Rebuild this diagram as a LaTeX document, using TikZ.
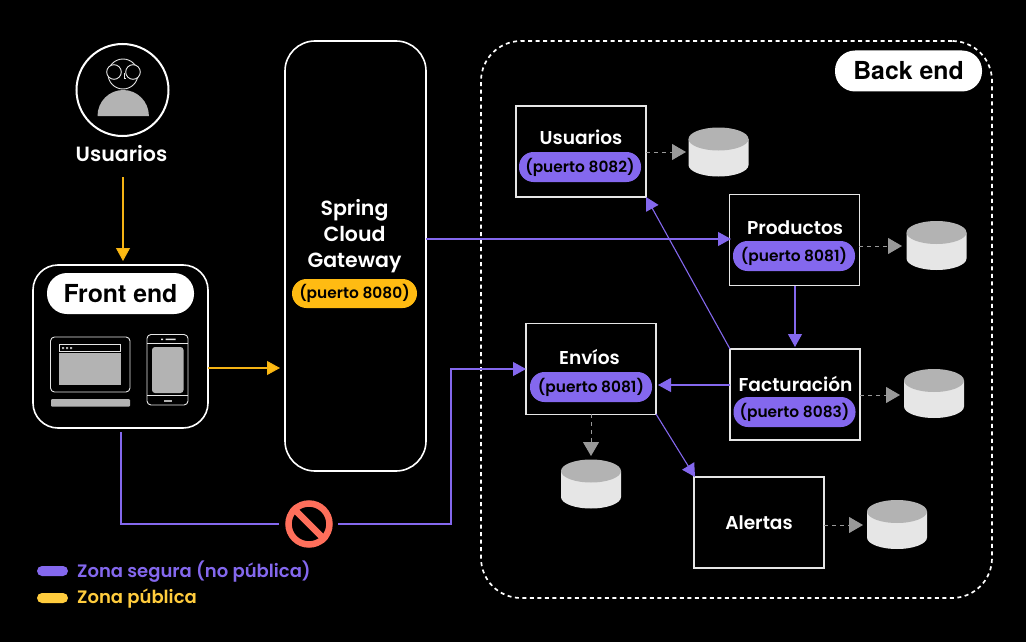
\documentclass[tikz,border=0pt]{standalone}
\usepackage{fontspec}
\setmainfont{Poppins}[BoldFont={Poppins SemiBold}]
\newfontfamily\heros{TeX Gyre Heros}
\usetikzlibrary{arrows.meta}
\definecolor{vio}{HTML}{8468EE}
\definecolor{yel}{HTML}{FFBB12}
\definecolor{liney}{HTML}{F5B314}
\definecolor{leg}{HTML}{FFCC3D}
\definecolor{redn}{HTML}{FF6F5B}
\definecolor{lgr}{HTML}{E6E6E6}
\definecolor{mgr}{HTML}{B3B3B3}
\definecolor{tipg}{HTML}{999999}
\tikzset{
 x=1pt,y=-1pt,
 svc/.style={draw=lgr,line width=1.15pt,fill=black,minimum width=130pt,minimum height=91pt,inner sep=0pt},
 pillv/.style={fill=vio,rounded corners=14.5pt,minimum width=122pt,minimum height=30pt,inner sep=0pt,text=black,font=\fontsize{15.4}{17}\selectfont\bfseries},
 title/.style={text=white,inner sep=0pt,font=\fontsize{18.6}{20}\selectfont\bfseries},
 conv/.style={draw=vio,line width=1.1pt,-{Triangle[length=13pt,width=14pt,fill=vio]}},
 cony/.style={draw=liney,line width=1.1pt,-{Triangle[length=13pt,width=14pt,fill=yel]}},
 cong/.style={draw=tipg,line width=1pt,dash pattern=on 4pt off 4pt,-{Triangle[length=14pt,width=16pt,fill=tipg]}},
 plainv/.style={draw=vio,line width=1.1pt},
 dev/.style={draw=lgr,line width=.9pt},
 bigpill/.style={fill=white,text=black,inner sep=0pt,font=\fontsize{24.8}{28}\selectfont\heros\bfseries},
 legt/.style={anchor=west,inner sep=0pt,font=\fontsize{18}{20}\selectfont\bfseries}
}
\newcommand{\dbcyl}[3]{%
 \node[minimum width=60pt,minimum height=49pt,inner sep=0pt] (#1) at (#2,#3) {};
 \fill[lgr] (#2-30,#3-13) -- (#2+30,#3-13) -- (#2+30,#3+13) arc[start angle=0,end angle=180,x radius=30,y radius=11.5] -- cycle;
 \fill[mgr] (#2,#3-13) ellipse[x radius=30,y radius=11.5];
}
\begin{document}
\begin{tikzpicture}
\useasboundingbox (0,0) rectangle (1026,642);
\fill[black] (0,0) rectangle (1026,642);

% back end
\node[draw=white,line width=1.7pt,dash pattern=on 4pt off 3.5pt,rounded corners=40pt,minimum width=511pt,minimum height=557pt,inner sep=0pt] (backend) at (736.5,319.5) {};
\node[bigpill,rounded corners=20pt,minimum width=147pt,minimum height=41pt] (backpill) at (908.5,71) {\raisebox{1pt}{Back end}};

% gateway
\node[draw=white,line width=1.6pt,rounded corners=30pt,minimum width=141pt,minimum height=430pt,inner sep=0pt] (gateway) at (355.5,256) {};
\node[title,align=center,font=\fontsize{20.5}{26}\selectfont\bfseries] (gwtext) at (354.5,236.5) {Spring\\Cloud\\Gateway};
\node[fill=yel,rounded corners=14.5pt,minimum width=125pt,minimum height=29pt,inner sep=0pt,text=black,font=\fontsize{15.4}{17}\selectfont\bfseries] (gwpill) at (354.5,293.5) {(puerto 8080)};

% user
\node[draw=white,line width=2pt,circle,minimum size=92pt,inner sep=0pt] (user) at (122.5,90) {};
\fill[mgr] (97.5,116) arc[start angle=180,end angle=360,x radius=25.7,y radius=26] -- cycle;
\draw[lgr,line width=.9pt] (123,74) circle[radius=15];
\fill[black] (114,72) circle[radius=7.3] (133,72) circle[radius=7.3];
\draw[lgr,line width=.9pt] (114,72) circle[radius=7.3] (133,72) circle[radius=7.3];
\draw[lgr,line width=.5pt] (124,73) -- (124,78) -- (126,78);
\node[title,font=\fontsize{20.6}{22}\selectfont\bfseries] (userlabel) at (121.5,153.5) {Usuarios};

% front end
\node[draw=white,line width=1.6pt,fill=black,rounded corners=25pt,minimum width=175pt,minimum height=163pt,inner sep=0pt] (front) at (120.5,346.5) {};
\node[bigpill,rounded corners=20pt,minimum width=147pt,minimum height=41pt] (frontpill) at (120.5,293.5) {\raisebox{.7pt}{Front end}};
% laptop
\draw[dev,rounded corners=4pt] (50.5,337) rectangle (130,392);
\draw[dev] (59.5,344.5) rectangle (120.5,351);
\fill[mgr] (59,353) rectangle (121,384.5);
\fill[mgr] (62,347) rectangle +(2,2) (66,347) rectangle +(2,2) (70,347) rectangle +(2,2);
\fill[mgr,rounded corners=1pt] (51,399) rectangle (130,406.5);
% phone
\draw[dev,rounded corners=4pt] (147,334.5) rectangle (188,405);
\draw[dev] (147,343) -- (188,343) (147,395) -- (188,395);
\fill[mgr,rounded corners=3pt] (152,347) rectangle (183.5,393);
\fill[lgr] (161,338.5) rectangle +(2,1.5) (165.5,338.5) rectangle +(10,1.5);
\fill[mgr] (164,400) rectangle +(8,1.5);

% services
\node[svc] (usuarios) at (581,151.5) {};
\node[title] (usuariost) at (581,137.5) {Usuarios};
\node[pillv] (usuariosp) at (580,167) {(puerto 8082)};

\node[svc] (productos) at (794.5,240) {};
\node[title] (productost) at (795,227.5) {Productos};
\node[pillv] (productosp) at (794,256) {(puerto 8081)};

\node[svc] (facturacion) at (795,394.5) {};
\node[title] (facturaciont) at (795.5,383.5) {Facturación};
\node[pillv] (facturacionp) at (794.5,412) {(puerto 8083)};

\node[svc] (envios) at (591,369) {};
\node[title] (enviost) at (589.5,357.5) {Envíos};
\node[pillv] (enviosp) at (591,387) {(puerto 8081)};

\node[svc] (alertas) at (759,522.5) {};
\node[title] (alertast) at (759,522.5) {Alertas};

% databases
\dbcyl{dbu}{718.5}{152}
\dbcyl{dbp}{936.5}{245.5}
\dbcyl{dbf}{934}{393.5}
\dbcyl{dbe}{591}{484}
\dbcyl{dba}{897}{524.5}

% no-entry sign
\node[circle,draw=redn,line width=6.5pt,minimum size=41pt,inner sep=0pt] (forbid) at (309,524) {};
\draw[redn,line width=6.5pt] (forbid.north west) -- (forbid.south east);

% helper coordinates
\coordinate (uS) at (123,165);
\coordinate (fN) at (123,265);
\coordinate (fE) at (208,368);
\coordinate (gW) at (285,368);
\coordinate (gE) at (426,239);
\coordinate (pW) at (729,239);
\coordinate (pS) at (795,286);
\coordinate (faN) at (795,349);
\coordinate (faW) at (730,385);
\coordinate (eE) at (656,385);
\coordinate (fS) at (121,428);
\coordinate (fC) at (121,524);
\coordinate (kL) at (279,524);
\coordinate (kR) at (338,524);
\coordinate (eC) at (451,524);
\coordinate (eD) at (451,369);
\coordinate (eW) at (526,369);
\coordinate (uSE) at (646,197);
\coordinate (faNW) at (730,349);
\coordinate (eSE) at (656,414);
\coordinate (aN) at (695,477);
\coordinate (d1a) at (646,152); \coordinate (d1b) at (688,152);
\coordinate (d2a) at (859,246); \coordinate (d2b) at (906,246);
\coordinate (d3a) at (860,395); \coordinate (d3b) at (904,395);
\coordinate (d4a) at (591,414); \coordinate (d4b) at (591,460);
\coordinate (d5a) at (824,525); \coordinate (d5b) at (867,525);

% connectors
\draw[cony,shorten <=12pt,shorten >=4pt] (uS) -- (fN);
\draw[cony,shorten >=5pt] (fE) -- (gW);
\draw[conv,shorten >=-2pt] (gE) -- (pW);
\draw[conv,shorten >=2pt] (pS) -- (faN);
\draw[conv,shorten >=2pt] (faW) -- (eE);
\draw[conv] (faNW) -- (uSE);
\draw[conv] (eSE) -- (aN);
\draw[plainv,shorten <=4pt] (fS) -- (fC) -- (kL);
\draw[conv] (kR) -- (eC) -- (eD) -- (eW);
\draw[cong,shorten >=2pt] (d1a) -- (d1b);
\draw[cong,shorten >=4pt] (d2a) -- (d2b);
\draw[cong,shorten >=4pt] (d3a) -- (d3b);
\draw[cong,shorten >=4pt] (d4a) -- (d4b);
\draw[cong,shorten >=4pt] (d5a) -- (d5b);

% legend
\node[fill=vio,rounded corners=5pt,minimum width=31pt,minimum height=10pt,inner sep=0pt] (lvbar) at (52.5,571) {};
\node[legt,text=vio] (lvtext) at (77,571.5) {Zona segura (no pública)};
\node[fill=leg,rounded corners=5pt,minimum width=31pt,minimum height=10pt,inner sep=0pt] (lybar) at (52.5,598) {};
\node[legt,text=leg] (lytext) at (77,598.5) {Zona pública};
\end{tikzpicture}
\end{document}
